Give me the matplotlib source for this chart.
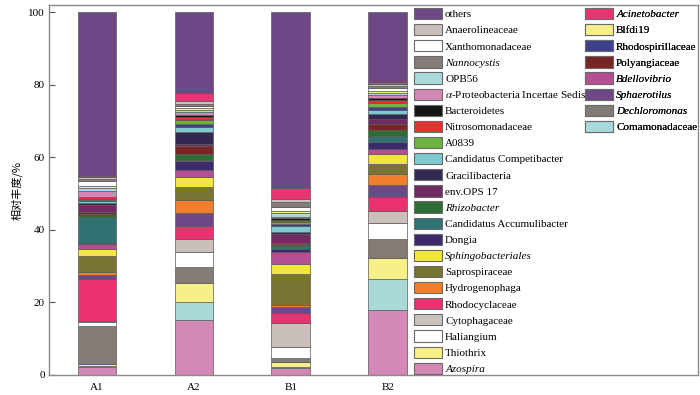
import matplotlib
matplotlib.use("Agg")
import matplotlib.pyplot as plt
from matplotlib.patches import Patch

plt.rcParams["font.family"] = ["Liberation Serif", "DejaVu Serif"]
plt.rcParams["mathtext.fontset"] = "stix"

samples = ["A1", "A2", "B1", "B2"]

# stacking order, bottom to top
taxa = ["Azospira", "Comamonadaceae", "Thiothrix", "Dechloromonas", "Haliangium",
        "Cytophagaceae", "Rhodocyclaceae", "Sphaerotilus", "Hydrogenophaga",
        "Saprospiraceae", "Sphingobacteriales", "Bdellovibrio", "Dongia",
        "Candidatus Accumulibacter", "Rhizobacter", "Polyangiaceae", "env.OPS 17",
        "Gracilibacteria", "Candidatus Competibacter", "Rhodospirillaceae", "A0839",
        "Nitrosomonadaceae", "Bacteroidetes", "α-Proteobacteria Incertae Sedis",
        "OPB56", "Blfdi19", "Xanthomonadaceae", "Nannocystis", "Anaerolineaceae",
        "Acinetobacter", "others"]

a1 = [2.3, 0.3, 0.4, 10.5, 1.1, 0.4, 11.6, 1.0, 0.8, 4.5, 1.7, 1.5, 0.2, 7.2, 0.9,
      0.5, 2.0, 0.4, 0.7, 0.2, 0.2, 0.6, 0.2, 1.6, 0.7, 0.6, 1.5, 0.4, 0.6, 0.2, 45.2]
a2 = [15.2, 5.0, 5.1, 4.4, 4.3, 3.6, 3.6, 3.5, 3.6, 3.4, 2.8, 1.9, 2.5, 0.4, 1.6,
      2.2, 0.7, 3.1, 1.4, 0.9, 1.1, 0.9, 0.5, 0.7, 0.6, 0.6, 0.6, 0.6, 0.7, 2.2, 22.3]
b1 = [1.9, 0.3, 1.4, 1.1, 3.0, 6.6, 2.7, 1.7, 0.6, 8.5, 2.7, 3.5, 0.6, 0.9, 0.5,
      0.5, 2.3, 0.5, 1.8, 0.5, 0.5, 0.7, 0.4, 0.4, 1.0, 0.6, 1.0, 1.4, 0.8, 3.2, 48.4]
b2 = [18.0, 8.5, 5.8, 5.2, 4.5, 3.3, 3.7, 3.5, 3.0, 2.8, 2.5, 1.6, 1.9, 1.7, 1.5,
      1.7, 1.3, 1.5, 1.0, 0.8, 1.1, 1.0, 0.6, 0.7, 0.6, 0.6, 0.6, 0.6, 0.5, 0.8, 19.1]

colors = {
    "others": "#6e4787", "Anaerolineaceae": "#c9c0bb", "Xanthomonadaceae": "#ffffff",
    "Nannocystis": "#857c77", "OPB56": "#a9d9d9",
    "α-Proteobacteria Incertae Sedis": "#d488b6", "Bacteroidetes": "#171514",
    "Nitrosomonadaceae": "#e8312f", "A0839": "#6cb23f",
    "Candidatus Competibacter": "#7ec8cf", "Gracilibacteria": "#33284f",
    "env.OPS 17": "#702a64", "Rhizobacter": "#2f6d36",
    "Candidatus Accumulibacter": "#2f7272", "Dongia": "#3d2a6c",
    "Sphingobacteriales": "#f2e83c", "Saprospiraceae": "#797431",
    "Hydrogenophaga": "#f07e2c", "Rhodocyclaceae": "#e9326f",
    "Cytophagaceae": "#c9c0bb", "Haliangium": "#ffffff", "Thiothrix": "#f7ef88",
    "Azospira": "#d488b6", "Acinetobacter": "#ea3472", "Blfdi19": "#f7ef88",
    "Rhodospirillaceae": "#3e3f8b", "Polyangiaceae": "#782524",
    "Bdellovibrio": "#b54f91", "Sphaerotilus": "#6e4787",
    "Dechloromonas": "#837b75", "Comamonadaceae": "#a9d9d9",
}

legend_col1 = ["others", "Anaerolineaceae", "Xanthomonadaceae", "Nannocystis", "OPB56",
               "α-Proteobacteria Incertae Sedis", "Bacteroidetes", "Nitrosomonadaceae",
               "A0839", "Candidatus Competibacter", "Gracilibacteria", "env.OPS 17",
               "Rhizobacter", "Candidatus Accumulibacter", "Dongia", "Sphingobacteriales",
               "Saprospiraceae", "Hydrogenophaga", "Rhodocyclaceae", "Cytophagaceae",
               "Haliangium", "Thiothrix", "Azospira"]
legend_col2 = ["Acinetobacter", "Blfdi19", "Rhodospirillaceae", "Polyangiaceae",
               "Bdellovibrio", "Sphaerotilus", "Dechloromonas", "Comamonadaceae"]
italic = {"Nannocystis", "Rhizobacter", "Sphingobacteriales", "Azospira",
          "Acinetobacter", "Bdellovibrio", "Sphaerotilus", "Dechloromonas"}

fig = plt.figure(figsize=(7, 3.95), dpi=100)
ax = fig.add_axes([49 / 700, 20 / 395, 649 / 700, 370 / 395])

values = [a1, a2, b1, b2]
x = list(range(len(samples)))
bottoms = [0.0] * len(samples)
for i, name in enumerate(taxa):
    h = [v[i] for v in values]
    ax.bar(x, h, bottom=bottoms, width=0.4, color=colors[name],
           edgecolor="#5a5a5a", linewidth=0.5)
    bottoms = [b + hh for b, hh in zip(bottoms, h)]

ax.set_xlim(-0.495, 6.2)
ax.set_ylim(0, 102)
ax.set_xticks(x)
ax.set_xticklabels(samples)
ax.set_yticks(range(0, 101, 20))
ax.tick_params(axis="y", direction="in", length=4, width=0.8, color="#555555",
               labelsize=8, pad=3)
ax.tick_params(axis="x", length=0, labelsize=8, pad=6)
for s in ax.spines.values():
    s.set_color("#8a8a8a")
    s.set_linewidth(1.0)
ax.set_ylabel("相对丰度/%", family=["Noto Sans CJK SC", "DejaVu Sans"], fontsize=8,
              labelpad=4)


def label_of(name):
    if name.startswith("α"):
        return r"$\alpha$" + name[1:]
    return name


def add_legend(names, left):
    handles = [Patch(facecolor=colors[n], edgecolor="#6a6a6a", linewidth=0.8)
               for n in names]
    leg = ax.legend(handles, [label_of(n) for n in names], loc="upper left",
                    bbox_to_anchor=(left / 700, 1 - 8 / 395),
                    bbox_transform=fig.transFigure, frameon=False, fontsize=8,
                    handlelength=2.5, handleheight=1.17, labelspacing=0.43,
                    handletextpad=0.3, borderpad=0, borderaxespad=0)
    for t, n in zip(leg.get_texts(), names):
        if n in italic:
            t.set_style("italic")
    ax.add_artist(leg)


add_legend(legend_col1, 414)
add_legend(legend_col2, 585)

fig.savefig("out.png", dpi=100)
